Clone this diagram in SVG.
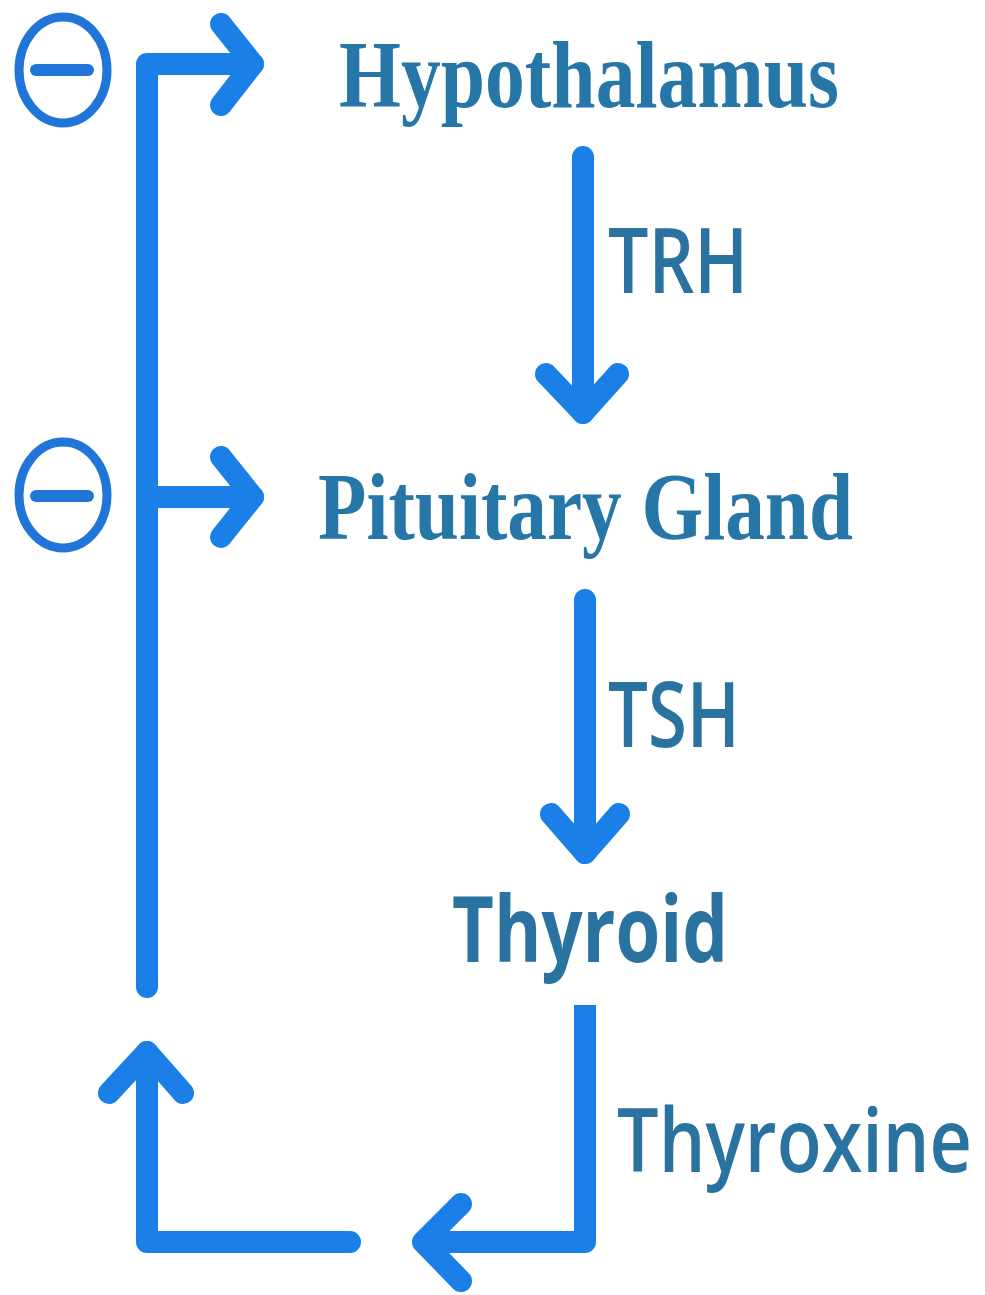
<svg xmlns="http://www.w3.org/2000/svg" width="985" height="1295" viewBox="0 0 985 1295">
<style>
.ln{fill:none;stroke:#1a7fe6;stroke-width:22;stroke-linecap:round;stroke-linejoin:round}
.ring{fill:none;stroke:#1f76d8;stroke-width:9}
.bar{stroke:#1f76d8;stroke-width:12;stroke-linecap:round}
.serif{font-family:"Liberation Serif","Times New Roman",serif;font-weight:bold;font-size:95px;fill:#2677a8}
.sans{font-family:"Open Sans","Noto Sans",sans-serif;font-size:91px;font-weight:600;fill:#2a73a0}
.bold{font-weight:bold}
</style>
<rect width="985" height="1295" fill="#ffffff"/>
<g id="inhibit-top">
<ellipse class="ring" cx="63" cy="70" rx="44" ry="53"/>
<line class="bar" x1="36" y1="70" x2="88" y2="70"/>
</g>
<g id="inhibit-mid">
<ellipse class="ring" cx="63" cy="495" rx="44" ry="53"/>
<line class="bar" x1="36" y1="496" x2="88" y2="496"/>
</g>
<g id="hypothalamus"><text class="serif" x="339" y="107" textLength="500" lengthAdjust="spacingAndGlyphs">Hypothalamus</text></g>
<g id="pituitary"><text class="serif" x="318" y="539" textLength="535" lengthAdjust="spacingAndGlyphs">Pituitary Gland</text></g>
<g id="thyroid"><text class="sans bold" x="452" y="962" textLength="276" lengthAdjust="spacingAndGlyphs">Thyroid</text></g>
<g id="connectors">
<path class="ln" d="M147,987 V64 H253"/>
<path class="ln" d="M221,24 L253,64 L221,105"/>
<path class="ln" d="M147,497 H253"/>
<path class="ln" d="M221,457 L253,497 L221,537"/>
<path class="ln" d="M583,157 V413"/>
<path class="ln" d="M546,374 L583,413 L618,374"/>
<path class="ln" d="M585,600 V853"/>
<path class="ln" d="M551,814 L585,853 L619,814"/>
<path class="ln" style="stroke-linecap:butt" d="M585,1005 V1242 H430"/>
<path class="ln" d="M461,1204 L423,1242 L461,1281"/>
<path class="ln" d="M350,1242 H147 V1052"/>
<path class="ln" d="M109,1093 L147,1052 L183,1093"/>
<text class="sans" x="608" y="293" textLength="140" lengthAdjust="spacingAndGlyphs">TRH</text>
<text class="sans" x="608" y="747" textLength="132" lengthAdjust="spacingAndGlyphs">TSH</text>
<g transform="translate(617,1172) scale(0.82,1)"><text class="sans" x="0" y="0" style="font-size:89px" textLength="433" lengthAdjust="spacingAndGlyphs">Thyroxine</text></g>
</g>
</svg>
